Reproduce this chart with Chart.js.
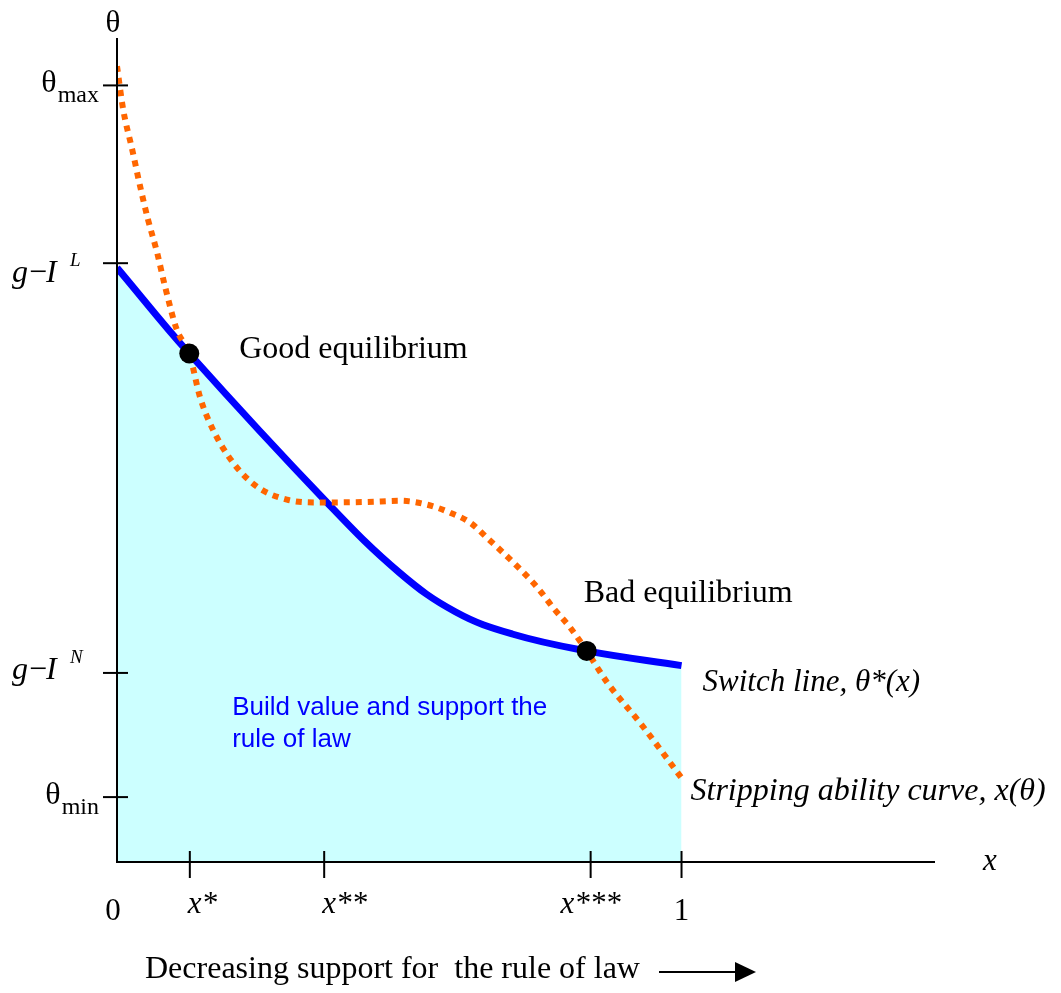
<!DOCTYPE html>
<html>
<head>
<meta charset="utf-8">
<script src="https://cdn.jsdelivr.net/npm/chart.js@4.4.1/dist/chart.umd.min.js"></script>
<style>
html, body { margin: 0; padding: 0; background: #fff; overflow: hidden; }
#wrap { position: relative; width: 1061px; height: 993px; }
</style>
</head>
<body>
<div id="wrap"><canvas id="chart"></canvas></div>
<script>
// switch line, theta*(x)
const switchX = [0, 0.128, 0.372, 0.5, 0.6, 0.7, 0.832, 1.0];
const switchY = [1.053, 0.901, 0.637, 0.513, 0.443, 0.404, 0.374, 0.348];

// stripping ability curve, x(theta)
const stripX = [0, 0.011, 0.027, 0.041, 0.055, 0.071, 0.085, 0.106, 0.128, 0.147, 0.17, 0.206, 0.248, 0.301, 0.355, 0.443, 0.502, 0.55, 0.59, 0.626, 0.656, 0.684, 0.715, 0.745, 0.773, 0.803, 0.832, 0.869, 0.927, 1.0];
const stripY = [1.41, 1.333, 1.262, 1.197, 1.138, 1.08, 1.02, 0.943, 0.901, 0.824, 0.766, 0.707, 0.665, 0.642, 0.637, 0.638, 0.64, 0.633, 0.619, 0.601, 0.574, 0.548, 0.518, 0.486, 0.45, 0.415, 0.374, 0.317, 0.246, 0.149];

// equilibria
const eqX = [0.128, 0.832];
const eqY = [0.901, 0.374];
const eqLabels = ['Good equilibrium', 'Bad equilibrium'];

// axis ticks
const xTickValues = [0, 0.129, 0.367, 0.839, 1];
const xTickLabels = ['0', 'x*', 'x**', 'x***', '1'];
const yTickValues = [0.115, 0.335, 1.061, 1.376];
const yTickBase = ['θ', 'g−I', 'g−I', 'θ'];
const yTickScript = ['min', 'N', 'L', 'max'];

const toPts = (xs, ys) => xs.map((v, i) => ({ x: v, y: ys[i] }));

const SERIF = '"Liberation Serif", "Times New Roman", serif';
const SANS = '"Liberation Sans", Arial, sans-serif';

const diagramText = {
    id: 'diagramText',
    afterDatasetsDraw(chart) {
        const { ctx, scales: { x, y } } = chart;
        const x0 = x.getPixelForValue(0);
        const y0 = y.getPixelForValue(0);
        ctx.save();

        // axes
        ctx.strokeStyle = '#000';
        ctx.lineWidth = 2;
        ctx.beginPath();
        ctx.moveTo(x0, y.top);
        ctx.lineTo(x0, y0);
        ctx.lineTo(x.right, y0);
        ctx.stroke();

        // ticks crossing the axes
        xTickValues.forEach(v => {
            if (v === 0) return;
            const px = x.getPixelForValue(v);
            ctx.beginPath();
            ctx.moveTo(px, y0 - 11);
            ctx.lineTo(px, y0 + 16);
            ctx.stroke();
        });
        yTickValues.forEach(v => {
            const py = y.getPixelForValue(v);
            ctx.beginPath();
            ctx.moveTo(x0 - 14, py);
            ctx.lineTo(x0 + 11, py);
            ctx.stroke();
        });

        ctx.fillStyle = '#000';
        ctx.textBaseline = 'alphabetic';

        // x tick labels
        xTickLabels.forEach((lab, i) => {
            const px = x.getPixelForValue(xTickValues[i]);
            const isNum = /^[0-9]/.test(lab);
            ctx.font = (isNum ? '' : 'italic ') + '31px ' + SERIF;
            ctx.textAlign = (i === 1 || i === 2) ? 'left' : 'center';
            const dx = (i === 1 || i === 2) ? -2 : (i === 0 ? -4 : 0);
            ctx.fillText(lab, px + dx, y0 + (isNum ? 58 : 51));
        });

        // y tick labels with sub/superscripts
        yTickBase.forEach((base, i) => {
            const py = y.getPixelForValue(yTickValues[i]);
            const script = yTickScript[i];
            if (base === 'θ') {
                ctx.textAlign = 'right';
                ctx.font = '24px ' + SERIF;
                const sw = ctx.measureText(script).width;
                ctx.fillText(script, x0 - 18, py + 17);
                ctx.font = '32px ' + SERIF;
                ctx.fillText(base, x0 - 18 - sw - 1, py + 7);
            } else {
                const up = script === 'L';
                const base0 = py + (up ? 19 : 6);
                ctx.textAlign = 'left';
                ctx.font = 'italic 32px ' + SERIF;
                ctx.fillText('g', x0 - 105, base0);
                ctx.font = '32px ' + SERIF;
                ctx.fillText('−', x0 - 88, base0);
                ctx.font = 'italic 32px ' + SERIF;
                ctx.fillText('I', x0 - 71, base0);
                ctx.font = 'italic 19px ' + SERIF;
                ctx.fillText(script, x0 - 47, base0 - 16);
            }
        });

        // axis titles
        ctx.textAlign = 'center';
        ctx.font = '31px ' + SERIF;
        ctx.fillText('θ', x0 - 4, 32);
        ctx.font = 'italic 31px ' + SERIF;
        ctx.fillText('x', x.right + 55, y0 + 8);

        // equilibrium labels
        ctx.textAlign = 'left';
        ctx.font = '32px ' + SERIF;
        ctx.fillText(eqLabels[0], x.getPixelForValue(eqX[0]) + 50, y.getPixelForValue(eqY[0]) + 5);
        ctx.fillText(eqLabels[1], x.getPixelForValue(eqX[1]) - 3, y.getPixelForValue(eqY[1]) - 49);

        // curve labels
        const sEnd = switchX.length - 1;
        ctx.font = 'italic 31px ' + SERIF;
        ctx.fillText('Switch line, θ*(x)', x.getPixelForValue(switchX[sEnd]) + 21, y.getPixelForValue(switchY[sEnd]) + 25);
        const tEnd = stripX.length - 1;
        ctx.font = 'italic 32px ' + SERIF;
        ctx.fillText('Stripping ability curve, x(θ)', x.getPixelForValue(stripX[tEnd]) + 9, y.getPixelForValue(stripY[tEnd]) + 22);

        // region label
        ctx.fillStyle = '#0000ff';
        ctx.font = '26px ' + SANS;
        ctx.fillText('Build value and support the', x.getPixelForValue(0.204), y.getPixelForValue(0.26));
        ctx.fillText('rule of law', x.getPixelForValue(0.204), y.getPixelForValue(0.26) + 32);

        // bottom caption with arrow
        ctx.fillStyle = '#000';
        ctx.font = '32px ' + SERIF;
        ctx.fillText('Decreasing support for  the rule of law', 145, 978);
        ctx.lineWidth = 2;
        ctx.beginPath();
        ctx.moveTo(659, 972);
        ctx.lineTo(738, 972);
        ctx.stroke();
        ctx.beginPath();
        ctx.moveTo(735, 962);
        ctx.lineTo(756, 972);
        ctx.lineTo(735, 982);
        ctx.closePath();
        ctx.fill();

        ctx.restore();
    }
};

new Chart(document.getElementById('chart'), {
    type: 'scatter',
    data: {
        datasets: [
            {
                data: toPts(eqX, eqY),
                pointRadius: 10,
                pointBackgroundColor: '#000',
                pointBorderWidth: 0,
                showLine: false,
                order: 0
            },
            {
                data: toPts(stripX, stripY),
                showLine: true,
                borderColor: '#ff6600',
                borderWidth: 6,
                borderDash: [6, 6],
                borderCapStyle: 'butt',
                cubicInterpolationMode: 'monotone',
                pointRadius: 0,
                fill: false,
                order: 1
            },
            {
                data: toPts(switchX, switchY),
                showLine: true,
                borderColor: '#0000ff',
                borderWidth: 7,
                tension: 0.4,
                pointRadius: 0,
                fill: 'origin',
                backgroundColor: '#ccffff',
                order: 2
            }
        ]
    },
    options: {
        responsive: true,
        maintainAspectRatio: false,
        animation: false,
        layout: { padding: { left: 117, right: 126, top: 38, bottom: 131 } },
        scales: {
            x: { type: 'linear', min: 0, max: 1.449, display: false },
            y: { type: 'linear', min: 0, max: 1.46, display: false }
        },
        plugins: {
            legend: { display: false },
            tooltip: { enabled: false }
        }
    },
    plugins: [diagramText]
});
</script>
</body>
</html>
